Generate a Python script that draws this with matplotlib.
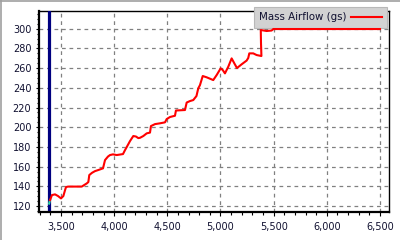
import matplotlib
matplotlib.use("Agg")
import matplotlib.pyplot as plt
from matplotlib.ticker import MultipleLocator, FuncFormatter
from matplotlib.lines import Line2D

# Mass airflow trace (rpm vs g/s)
rpm = [3397, 3415, 3444, 3472, 3500, 3522, 3538, 3547, 3566, 3695, 3742, 3757,
       3766, 3792, 3820, 3848, 3895, 3914, 3942, 3961, 3989, 4024, 4083, 4102,
       4118, 4149, 4180, 4205, 4227, 4243, 4274, 4306, 4337, 4346, 4384, 4431,
       4478, 4494, 4525, 4572, 4581, 4666, 4682, 4713, 4744, 4774, 4791, 4807,
       4833, 4870, 4932, 4964, 5002, 5021, 5042, 5073, 5105, 5130, 5155, 5199,
       5246, 5261, 5271, 5308, 5340, 5385, 5381, 5379, 5434, 5481, 5497, 6500]
maf = [126.1, 131.2, 131.9, 130.2, 127.8, 130.2, 136.2, 139.3, 139.8, 139.8, 143.0, 144.4,
       151.5, 153.8, 155.5, 156.5, 158.3, 166.7, 170.3, 171.8, 172.5, 171.8, 172.8, 176.8,
       179.9, 186.0, 191.1, 190.6, 189.0, 189.3, 191.1, 193.8, 194.6, 201.2, 203.2, 204.0,
       205.0, 208.3, 210.4, 211.7, 217.0, 217.5, 225.1, 226.6, 227.6, 231.7, 239.5, 242.8,
       252.0, 250.7, 247.9, 253.0, 259.8, 258.1, 254.7, 261.4, 269.9, 264.9, 260.1, 263.9,
       267.7, 270.3, 275.0, 275.0, 273.3, 272.3, 285.5, 298.7, 297.7, 298.2, 299.7, 299.7]

# short start segment drawn in teal
rpm_start = [3388, 3397]
maf_start = [122.5, 126.1]

cursor_rpm = 3390
series_label = "Mass Airflow (gs)"

x_ticks = [3500, 4000, 4500, 5000, 5500, 6000, 6500]
y_ticks = [120, 140, 160, 180, 200, 220, 240, 260, 280, 300]

fig = plt.figure(figsize=(4, 2.4), dpi=100)
fig.patch.set_facecolor("white")
ax = fig.add_axes([39/400, 1-212/240, 350/400, 201/240])

ax.set_xlim(3293, 6585)
ax.set_ylim(114, 318)

ax.grid(True, which="major", color="#808080", linestyle=(0, (3, 3)), linewidth=0.9)
ax.set_axisbelow(True)

ax.axvline(cursor_rpm, color="#000080", linewidth=2.3, zorder=3)
ax.plot(rpm_start, maf_start, color="#30d0a0", linewidth=1.5, zorder=4)
ax.plot(rpm, maf, color="#ff0000", linewidth=1.5, zorder=6, label=series_label)

ax.set_xticks(x_ticks)
ax.set_yticks(y_ticks)
ax.xaxis.set_minor_locator(MultipleLocator(100))
ax.yaxis.set_minor_locator(MultipleLocator(5))
ax.xaxis.set_major_formatter(FuncFormatter(lambda v, p: f"{int(v):,}"))

ax.tick_params(axis="both", which="major", labelsize=7, colors="black",
               labelcolor="#101030", width=0.8)
ax.tick_params(axis="x", which="major", length=3, pad=4)
ax.tick_params(axis="y", which="major", length=2.5, pad=3)
ax.tick_params(axis="x", which="minor", length=2, width=0.8)
ax.tick_params(axis="y", which="minor", length=1.5, width=0.8)

for side in ["left", "bottom"]:
    ax.spines[side].set_linewidth(1.6)
for side in ["top", "right"]:
    ax.spines[side].set_linewidth(1.0)
for s in ax.spines.values():
    s.set_color("black")
for side in ["left", "bottom"]:
    ax.spines[side].set_zorder(7)

handle = Line2D([], [], color="#ff0000", linewidth=1.5)
leg = ax.legend([handle], [series_label], loc="upper right",
                bbox_to_anchor=(387/400, 1-7.3/240), bbox_transform=fig.transFigure,
                markerfirst=False, fontsize=7.4, frameon=True, fancybox=False,
                borderaxespad=0, borderpad=0.5, handlelength=3.0, handletextpad=0.45,
                framealpha=1)
leg.get_frame().set_facecolor("#d2d2d2")
leg.get_frame().set_edgecolor("#b8b8b8")
leg.get_frame().set_linewidth(0.8)
leg.set_zorder(5)
leg.set_clip_on(False)
for t in leg.get_texts():
    t.set_color("#101030")

# sunken border at top/left
fig.add_artist(Line2D([0, 1], [1-0.75/240, 1-0.75/240], transform=fig.transFigure,
                      color="#a0a0a0", linewidth=1.2))
fig.add_artist(Line2D([0.75/400, 0.75/400], [0, 1], transform=fig.transFigure,
                      color="#a0a0a0", linewidth=1.2))

fig.savefig("out.png", dpi=100, facecolor="white")
